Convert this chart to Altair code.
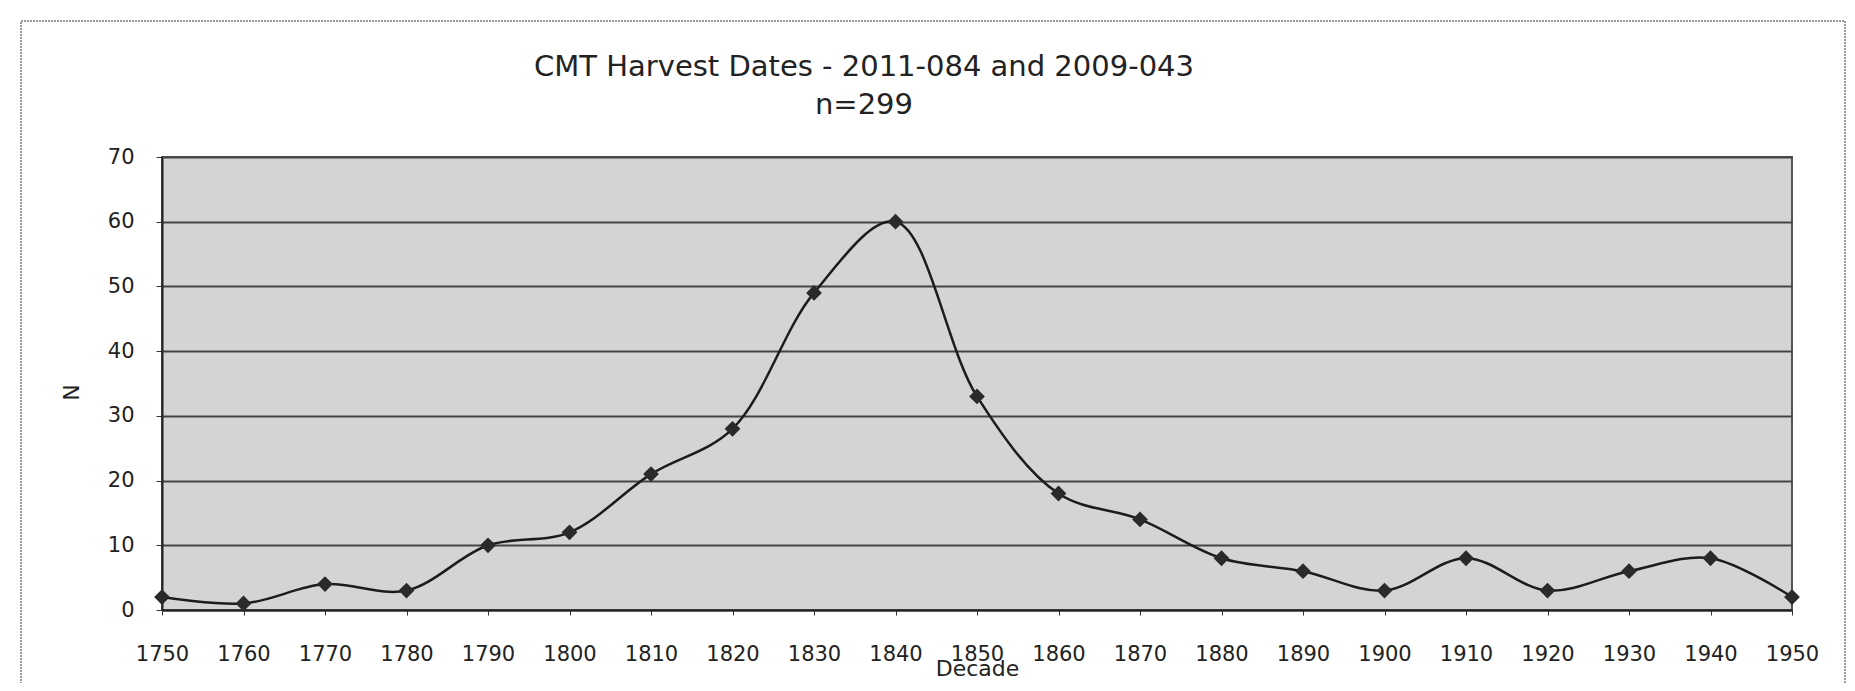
import altair as alt
import pandas as pd

decades = [1750, 1760, 1770, 1780, 1790, 1800, 1810, 1820, 1830, 1840,
           1850, 1860, 1870, 1880, 1890, 1900, 1910, 1920, 1930, 1940, 1950]
counts = [2, 1, 4, 3, 10, 12, 21, 28, 49, 60,
          33, 18, 14, 8, 6, 3, 8, 3, 6, 8, 2]
y_ticks = [0, 10, 20, 30, 40, 50, 60, 70]
title_lines = ["CMT Harvest Dates - 2011-084 and 2009-043", "n=299"]

df = pd.DataFrame({"Decade": decades, "N": counts})

W, H = 1630, 453
FONT = "DejaVu Sans"

x_enc = alt.X("Decade:Q",
              scale=alt.Scale(domain=[1750, 1950], nice=False, zero=False),
              axis=alt.Axis(values=decades, format="d", title="Decade",
                            grid=False, tickSize=5, tickColor="#333",
                            domainColor="#222", domainWidth=2,
                            labelFlush=False, labelOverlap=False,
                            labelPadding=28, labelFontSize=21, labelColor="#222",
                            labelFont=FONT, titleFont=FONT, titleFontSize=22,
                            titleFontWeight="normal", titleColor="#222",
                            titleY=58, titleBaseline="middle"))
y_enc = alt.Y("N:Q",
              scale=alt.Scale(domain=[0, 70], nice=False),
              axis=alt.Axis(values=y_ticks, title="N", grid=True,
                            gridColor="#444", gridWidth=2,
                            tickSize=6, tickColor="#333",
                            domainColor="#222", domainWidth=2,
                            labelFlush=False, labelOverlap=False,
                            labelPadding=22, labelFontSize=21, labelColor="#222",
                            labelFont=FONT, titleFont=FONT, titleFontSize=22,
                            titleFontWeight="normal", titleColor="#222",
                            titleX=-79, titleY=235, titleAngle=270))

line = alt.Chart(df).mark_line(
    interpolate="catmull-rom", color="#1c1c1c", strokeWidth=2.5
).encode(x=x_enc, y=y_enc)

pts = alt.Chart(df).mark_point(
    shape="diamond", filled=True, color="#2a2a2a", size=250, opacity=1
).encode(x="Decade:Q", y="N:Q")

frame_df = pd.DataFrame({"k": [0]})
frame = alt.Chart(frame_df).mark_rect(
    fillOpacity=0, stroke="#9a9a9a", strokeWidth=2, strokeDash=[2, 1], clip=False
).encode(x=alt.value(-141), x2=alt.value(1683), y=alt.value(-136), y2=alt.value(560))

chart = alt.layer(frame, line, pts).properties(
    width=W, height=H,
    background="white",
    title=alt.TitleParams(text=title_lines, font=FONT, fontSize=29,
                          fontWeight="normal", color="#222", anchor="middle",
                          dx=-113, dy=140, offset=40, lineHeight=38),
    autosize=alt.AutoSizeParams(type="none"),
    padding={"left": 154, "top": 149, "right": 55, "bottom": 73},
).configure_view(
    fill="#d4d4d4", stroke="#555", strokeWidth=2
)

chart.save("out.html", embed_options={"renderer": "svg", "actions": False})
